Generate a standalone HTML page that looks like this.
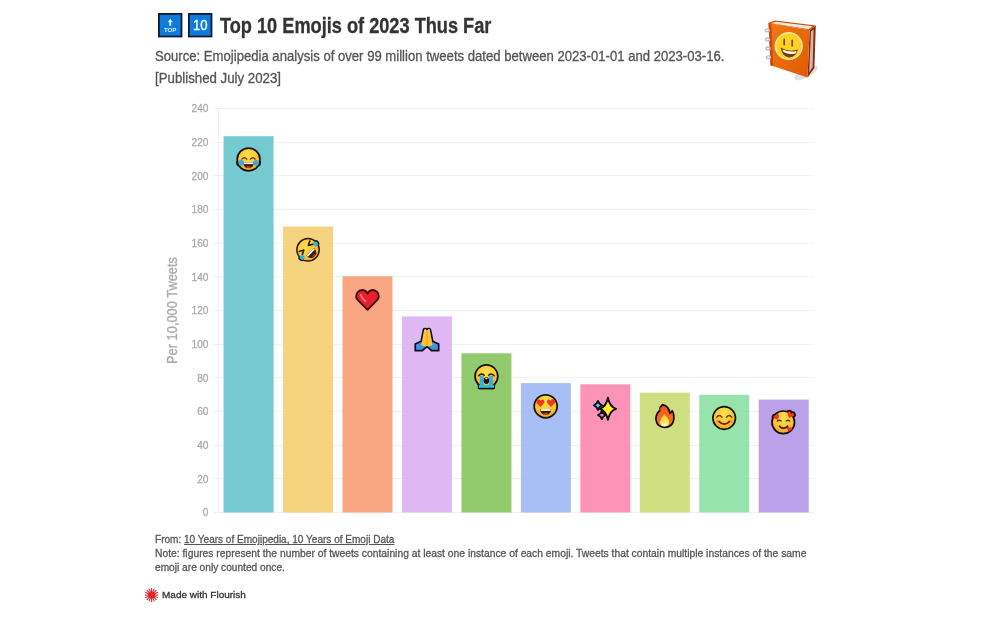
<!DOCTYPE html>
<html lang="en">
<head>
<meta charset="utf-8">
<title>Top 10 Emojis of 2023 Thus Far</title>
<style>
html,body{margin:0;padding:0;background:#fff;}
body{width:1005px;height:620px;position:relative;overflow:hidden;font-family:"Liberation Sans",sans-serif;}
.t{-webkit-text-stroke:0.3px currentColor;position:absolute;white-space:nowrap;transform-origin:0 0;line-height:1;margin:0;}
#title{left:219.9px;top:15px;font-size:21.2px;font-weight:bold;color:#333;transform:scaleX(0.858);}
#sub1{left:155px;top:48.6px;font-size:14px;color:#555;transform:scaleX(0.9368);}
#sub2{left:155px;top:70.8px;font-size:14px;color:#555;transform:scaleX(0.9466);}
#f1{left:155.2px;top:534.1px;font-size:11.4px;color:#555;transform:scaleX(0.8814);}
#f2{left:155.2px;top:547.8px;font-size:11.4px;color:#555;transform:scaleX(0.9051);}
#f3{left:155.2px;top:561.8px;font-size:11.4px;color:#555;transform:scaleX(0.8919);}
#f1 a{color:#555;text-decoration:underline;}
#mwf{left:161.8px;top:590.1px;font-size:9.9px;color:#333;transform:scaleX(1.012);}
svg{position:absolute;left:0;top:0;}
.grid line{stroke:#f1f1f1;stroke-width:1;shape-rendering:crispEdges;}
.grid text{font-family:"Liberation Sans",sans-serif;font-size:11.800px;fill:#aaa;stroke:#aaa;stroke-width:0.3px;}
</style>
</head>
<body>
<svg width="1005" height="620" viewBox="0 0 1005 620">
<defs>
<radialGradient id="gy" cx="0.5" cy="0.3" r="0.75">
<stop offset="0" stop-color="#FFE14D"/><stop offset="0.6" stop-color="#FCC32F"/><stop offset="1" stop-color="#F39A2B"/>
</radialGradient>
<linearGradient id="gfire" x1="0" y1="0" x2="0" y2="1">
<stop offset="0" stop-color="#F4511E"/><stop offset="1" stop-color="#F57C1F"/>
</linearGradient>
<linearGradient id="gfire2" x1="0" y1="0" x2="0" y2="1">
<stop offset="0" stop-color="#FFC928"/><stop offset="0.7" stop-color="#FFE866"/><stop offset="1" stop-color="#FFFFFF"/>
</linearGradient>
<linearGradient id="gcover" x1="0" y1="0" x2="1" y2="1">
<stop offset="0" stop-color="#F07A10"/><stop offset="1" stop-color="#E05A05"/>
</linearGradient>

<!-- 1: face with tears of joy -->
<g id="e-joy">
<ellipse cx="-8.4" cy="3.4" rx="4.1" ry="3.7" fill="#15130c"/>
<ellipse cx="8.4" cy="3.4" rx="4.1" ry="3.7" fill="#15130c"/>
<circle r="11.400" fill="url(#gy)" stroke="#15130c" stroke-width="1.7"/>
<path d="M-6.6,-0.4 Q-4.2,-3.2 -1.8,-0.4 M1.8,-0.4 Q4.2,-3.2 6.6,-0.4" fill="none" stroke="#6b3f0c" stroke-width="1.4" stroke-linecap="round"/>
<path d="M-5.4,2.6 H5.4 Q5,8.8 0,8.8 Q-5,8.800 -5.4,2.6Z" fill="#3a1a08"/>
<path d="M-4.8,2.8 H4.8 V4.6 H-4.8Z" fill="#fff"/>
<path d="M-2.6,7.8 Q0,5.8 2.6,7.800 Q0,9.200 -2.6,7.8Z" fill="#d2452d"/>
<ellipse cx="-7.5" cy="3.4" rx="2.700" ry="2.8" fill="#39a7e0"/>
<ellipse cx="7.5" cy="3.4" rx="2.700" ry="2.8" fill="#39a7e0"/>
</g>

<!-- 2: rolling on the floor laughing -->
<g id="e-rofl">
<g transform="rotate(-45)">
<ellipse cx="-10.100" cy="1.2" rx="3.3" ry="3.2" fill="#2a1a06"/>
<ellipse cx="10.100" cy="1.2" rx="3.3" ry="3.2" fill="#2a1a06"/>
<circle r="11.2" fill="url(#gy)" stroke="#2a1a06" stroke-width="1.5"/>
<path d="M-7.4,-5 L-3.2,-2.8 L-7.4,-0.6 M7.4,-5 L3.2,-2.8 L7.4,-0.6" fill="none" stroke="#2e1604" stroke-width="1.6" stroke-linecap="round" stroke-linejoin="round"/>
<path d="M-5.600,2.800 H5.600 Q5.300,9.300 0,9.300 Q-5.300,9.300 -5.600,2.800Z" fill="#3a1a08"/>
<path d="M-5,2.900 H5 V4.700 H-5Z" fill="#fff"/>
<path d="M-2.4,8.2 Q0,6.4 2.4,8.200 Q0,9.400 -2.4,8.2Z" fill="#c7412a"/>
<ellipse cx="-9.500" cy="1.2" rx="2.400" ry="2.400" fill="#2fb4dc"/>
<ellipse cx="9.500" cy="1.2" rx="2.400" ry="2.400" fill="#2fb4dc"/>
</g>
</g>

<!-- 3: red heart -->
<g id="e-heart">
<path d="M0,10.2 L-9.6,0.6 Q-12.6,-3.2 -10,-7.2 Q-7.2,-10.4 -3.2,-9.2 Q-1.2,-8.4 0,-6.2 Q1.2,-8.4 3.2,-9.2 Q7.2,-10.4 10,-7.2 Q12.6,-3.2 9.6,0.6 Z" fill="#ea1f2d" stroke="#3e0606" stroke-width="1.9" stroke-linejoin="round"/>
<path d="M-6.800,-4.6 Q-5.800,-1.4 -2.200,1.600" fill="none" stroke="#f9767b" stroke-width="2.100" stroke-linecap="round"/>
</g>

<!-- 4: folded hands -->
<g id="e-pray">
<path d="M-2,-11 Q-3.400,-11.2 -3.600,-9.6 L-5.8,1.6 L-11.700,4.4 V11 H-4.6 L0,6.6 L4.6,11 H11.700 V4.4 L5.8,1.6 L3.600,-9.6 Q3.400,-11.2 2,-11 Q0.700,-11.2 0,-10 Q-0.700,-11.2 -2,-11Z" fill="#3a96dd" stroke="#140c20" stroke-width="1.7" stroke-linejoin="round"/>
<path d="M-2,-10.2 Q-2.800,-10.2 -2.900,-9.2 L-5,2.2 L-5.8,5.2 L-1.2,7 L0,5.8 L1.2,7 L5.8,5.2 L5,2.2 L2.900,-9.2 Q2.800,-10.2 2,-10.2 Q0.700,-10.2 0,-9 Q-0.700,-10.2 -2,-10.2Z" fill="#fdc435"/>
<path d="M0,-9 V5.6" stroke="#ee9f1e" stroke-width="1.1"/>
<path d="M-1.800,-10.6 V-7.500 M1.800,-10.6 V-7.500" stroke="#f7d9a0" stroke-width="0.8"/>
</g>

<!-- 5: loudly crying face -->
<g id="e-sob">
<path d="M-8.2,6 H8.2 V11.6 Q8.2,12.4 7.4,12.4 H-7.4 Q-8.2,12.4 -8.2,11.6Z" fill="#111" stroke="#111" stroke-width="0.8"/>
<circle r="11.400" cy="-0.3" fill="url(#gy)" stroke="#15130c" stroke-width="1.7"/>
<path d="M-6.700,-0.6 H-2.500 V11 H-6.700Z M2.500,-0.6 H6.700 V11 H2.500Z M-7.4,8.400 H7.4 V11 H-7.4Z" fill="#3aaee2"/>
<path d="M-7.4,8.6 H7.4 V11 H-7.4Z" fill="#2fc0d8"/>
<path d="M-7.8,-0.8 Q-5,-3.8 -2.2,-1.4 M2.2,-1.4 Q5,-3.8 7.8,-0.8" fill="none" stroke="#2a2208" stroke-width="1.5" stroke-linecap="round"/>
<ellipse cx="0" cy="4" rx="2.700" ry="3.400" fill="#1b0d06"/>
<ellipse cx="0" cy="2" rx="1.3" ry="0.8" fill="#e6e0d8"/>
</g>

<!-- 6: heart eyes -->
<g id="e-hearteyes" transform="translate(-0.2 -0.1)">
<circle r="11.500" fill="url(#gy)" stroke="#15130c" stroke-width="1.7"/>
<path d="M-5.2,0.6 L-9,-3 Q-10.2,-5.2 -8.4,-6.6 Q-6.4,-7.6 -4.8,-5.6 Q-3.6,-7.6 -1.8,-6.4 Q-0.4,-4.8 -2,-2.8 Z" fill="#f0391a"/>
<path d="M5.2,0.6 L9,-3 Q10.2,-5.2 8.4,-6.6 Q6.4,-7.6 4.8,-5.6 Q3.600,-7.6 1.8,-6.4 Q0.4,-4.8 2,-2.8 Z" fill="#f0391a"/>
<path d="M-5.6,2.6 H5.6 Q5.2,8.4 0,8.4 Q-5.2,8.4 -5.6,2.6Z" fill="#3a1a08"/>
<path d="M-5,2.8 H5 V4.6 H-5Z" fill="#fff"/>
<path d="M-2.6,7.4 Q0,5.6 2.6,7.4 Q0,8.8 -2.600,7.4Z" fill="#d2452d"/>
</g>

<!-- 7: sparkles -->
<g id="e-sparkles">
<path d="M-7.4,-6.7 Q-6.300000000000001,-3.3000000000000003 -3.3000000000000007,-2.2 Q-6.300000000000001,-1.1 -7.4,2.3 Q-8.5,-1.1 -11.5,-2.2 Q-8.5,-3.3000000000000003 -7.4,-6.7Z" fill="#2fd0f5" stroke="#120a14" stroke-width="1.9" stroke-linejoin="round"/>
<path d="M-3.5,3.5 Q-2.5,6.5 0.2999999999999998,7.5 Q-2.5,8.5 -3.5,11.5 Q-4.5,8.5 -7.3,7.5 Q-4.5,6.5 -3.5,3.5Z" fill="#d98ad6" stroke="#120a14" stroke-width="1.9" stroke-linejoin="round"/>
<path d="M2.6,-9.8 Q4.4,-0.6000000000000001 10.799999999999999,1.2 Q4.4,3.0 2.6,12.2 Q0.8,3.0 -5.6,1.2 Q0.8,-0.6000000000000001 2.6,-9.8Z" fill="#fff21a" stroke="#120a14" stroke-width="1.9" stroke-linejoin="round"/>
</g>

<!-- 8: fire -->
<g id="e-fire">
<path d="M-2.200,-11.200 Q4.400,-9.600 5,-2.600 Q6.600,-3.200 7.400,-5.200 Q9.800,-1 8.800,4.600 Q7.200,11.400 0,11.400 Q-7.600,11.400 -8.800,4 Q-9.400,-1.600 -5,-5.400 Q-5.400,-8.600 -2.200,-11.200Z" fill="url(#gfire)" stroke="#160c04" stroke-width="1.7" stroke-linejoin="round"/>
<path d="M-0.400,-1.600 Q3.400,2.200 4.400,5.400 Q4.600,10.400 0,10.600 Q-4.600,10.400 -4.800,6 Q-4.200,2 -0.400,-1.600Z" fill="url(#gfire2)"/>
<path d="M-5.600,-5.800 Q-5.200,-8.200 -3.600,-9.200 Q-4.400,-7 -4.200,-5.400Z" fill="#b9524a"/>
</g>

<!-- 9: smiling face with smiling eyes -->
<g id="e-blush">
<circle r="11.300" cx="-0.1" cy="-0.1" fill="url(#gy)" stroke="#15130c" stroke-width="1.7"/>
<ellipse cx="-6.200" cy="3" rx="2.600" ry="1.800" fill="#f58a4a" opacity="0.75"/>
<ellipse cx="6.200" cy="3" rx="2.600" ry="1.800" fill="#f58a4a" opacity="0.75"/>
<path d="M-7.400,-1 Q-5,-4.200 -2.400,-1 M2.400,-1 Q5,-4.200 7.400,-1" fill="none" stroke="#5a3408" stroke-width="1.5" stroke-linecap="round"/>
<path d="M-5.200,3.600 Q0,8.600 5.200,3.600" fill="none" stroke="#5a2408" stroke-width="1.6" stroke-linecap="round"/>
</g>

<!-- 10: smiling face with hearts -->
<g id="e-hearts3">
<path transform="translate(-6.95 -5.60) rotate(-28)" d="M0,2.66 L-2.80,-0.14 Q-3.64,-1.82 -2.10,-2.66 Q-0.78,-3.08 0,-1.54 Q0.78,-3.08 2.10,-2.66 Q3.64,-1.82 2.80,-0.14Z" fill="#1a0e10" stroke="#1a0e10" stroke-width="3.2" stroke-linejoin="round"/>
<path transform="translate(6.65 -7.70) rotate(24)" d="M0,3.04 L-3.20,-0.16 Q-4.16,-2.08 -2.40,-3.04 Q-0.90,-3.52 0,-1.76 Q0.90,-3.52 2.40,-3.04 Q4.16,-2.08 3.20,-0.16Z" fill="#1a0e10" stroke="#1a0e10" stroke-width="3.2" stroke-linejoin="round"/>
<circle r="11.3" cx="-0.45" cy="-0.6" fill="url(#gy)" stroke="#1a0e10" stroke-width="1.7"/>
<path transform="translate(-6.95 -5.60) rotate(-28)" d="M0,2.66 L-2.80,-0.14 Q-3.64,-1.82 -2.10,-2.66 Q-0.78,-3.08 0,-1.54 Q0.78,-3.08 2.10,-2.66 Q3.64,-1.82 2.80,-0.14Z" fill="#ee3a1c"/>
<path transform="translate(6.65 -7.70) rotate(24)" d="M0,3.04 L-3.20,-0.16 Q-4.16,-2.08 -2.40,-3.04 Q-0.90,-3.52 0,-1.76 Q0.90,-3.52 2.40,-3.04 Q4.16,-2.08 3.20,-0.16Z" fill="#ee3a1c"/>
<path transform="translate(5.45 6.30) rotate(18)" d="M0,2.47 L-2.60,-0.13 Q-3.38,-1.69 -1.95,-2.47 Q-0.73,-2.86 0,-1.43 Q0.73,-2.86 1.95,-2.47 Q3.38,-1.69 2.60,-0.13Z" fill="#ee3a1c"/>
<path d="M-6.35,-1.90 Q-4.45,-3.60 -2.55,-1.90 M2.45,-1.90 Q4.25,-3.60 5.95,-1.90" fill="none" stroke="#5a3408" stroke-width="1.4" stroke-linecap="round"/>
<path d="M-4.05,3.40 Q-0.25,7.20 3.55,3.40" fill="none" stroke="#4a1c08" stroke-width="1.8" stroke-linecap="round"/>
</g>
</defs>

<!-- gridlines and y axis -->
<g class="grid">
<line x1="212.5" x2="813.5" y1="512.50" y2="512.50"/>
<text x="208.5" y="516.45" text-anchor="end" transform="translate(208.5 0) scale(0.865 1) translate(-208.5 0)">0</text>
<line x1="212.5" x2="813.5" y1="478.83" y2="478.83"/>
<text x="208.5" y="482.78" text-anchor="end" transform="translate(208.5 0) scale(0.865 1) translate(-208.5 0)">20</text>
<line x1="212.5" x2="813.5" y1="445.17" y2="445.17"/>
<text x="208.5" y="449.12" text-anchor="end" transform="translate(208.5 0) scale(0.865 1) translate(-208.5 0)">40</text>
<line x1="212.5" x2="813.5" y1="411.50" y2="411.50"/>
<text x="208.5" y="415.45" text-anchor="end" transform="translate(208.5 0) scale(0.865 1) translate(-208.5 0)">60</text>
<line x1="212.5" x2="813.5" y1="377.83" y2="377.83"/>
<text x="208.5" y="381.78" text-anchor="end" transform="translate(208.5 0) scale(0.865 1) translate(-208.5 0)">80</text>
<line x1="212.5" x2="813.5" y1="344.17" y2="344.17"/>
<text x="208.5" y="348.12" text-anchor="end" transform="translate(208.5 0) scale(0.865 1) translate(-208.5 0)">100</text>
<line x1="212.5" x2="813.5" y1="310.50" y2="310.50"/>
<text x="208.5" y="314.45" text-anchor="end" transform="translate(208.5 0) scale(0.865 1) translate(-208.5 0)">120</text>
<line x1="212.5" x2="813.5" y1="276.83" y2="276.83"/>
<text x="208.5" y="280.78" text-anchor="end" transform="translate(208.5 0) scale(0.865 1) translate(-208.5 0)">140</text>
<line x1="212.5" x2="813.5" y1="243.17" y2="243.17"/>
<text x="208.5" y="247.12" text-anchor="end" transform="translate(208.5 0) scale(0.865 1) translate(-208.5 0)">160</text>
<line x1="212.5" x2="813.5" y1="209.50" y2="209.50"/>
<text x="208.5" y="213.45" text-anchor="end" transform="translate(208.5 0) scale(0.865 1) translate(-208.5 0)">180</text>
<line x1="212.5" x2="813.5" y1="175.83" y2="175.83"/>
<text x="208.5" y="179.78" text-anchor="end" transform="translate(208.5 0) scale(0.865 1) translate(-208.5 0)">200</text>
<line x1="212.5" x2="813.5" y1="142.17" y2="142.17"/>
<text x="208.5" y="146.12" text-anchor="end" transform="translate(208.5 0) scale(0.865 1) translate(-208.5 0)">220</text>
<line x1="212.5" x2="813.5" y1="108.50" y2="108.50"/>
<text x="208.5" y="112.45" text-anchor="end" transform="translate(208.5 0) scale(0.865 1) translate(-208.5 0)">240</text>
<line x1="218.5" x2="218.5" y1="108.5" y2="512.5" style="stroke:#f4efef"/>
</g>
<text transform="translate(177.3 310.5) rotate(-90) scale(0.9186 1)" text-anchor="middle" font-family="Liberation Sans, sans-serif" font-size="14" fill="#aaa" stroke="#aaa" stroke-width="0.3">Per 10,000 Tweets</text>

<!-- bars -->
<g opacity="0.9">
<rect x="223.58" y="136.20" width="50.0" height="376.30" fill="#66C5CC"/>
<rect x="283.04" y="226.50" width="50.0" height="286.00" fill="#F6CF71"/>
<rect x="342.50" y="276.30" width="50.0" height="236.20" fill="#F89C74"/>
<rect x="401.96" y="316.40" width="50.0" height="196.10" fill="#DCB0F2"/>
<rect x="461.42" y="353.30" width="50.0" height="159.20" fill="#87C55F"/>
<rect x="520.88" y="383.10" width="50.0" height="129.40" fill="#9EB9F3"/>
<rect x="580.34" y="384.30" width="50.0" height="128.20" fill="#FE88B1"/>
<rect x="639.80" y="392.60" width="50.0" height="119.90" fill="#C9DB74"/>
<rect x="699.26" y="394.80" width="50.0" height="117.70" fill="#8BE0A4"/>
<rect x="758.72" y="399.60" width="50.0" height="112.90" fill="#B497E7"/>
</g>
<g>
<use href="#e-joy" x="248.58" y="159.50"/>
<use href="#e-rofl" x="308.04" y="249.80"/>
<use href="#e-heart" x="367.50" y="299.60"/>
<use href="#e-pray" x="426.96" y="339.70"/>
<use href="#e-sob" x="486.42" y="376.60"/>
<use href="#e-hearteyes" x="545.88" y="406.40"/>
<use href="#e-sparkles" x="605.34" y="407.60"/>
<use href="#e-fire" x="664.80" y="415.90"/>
<use href="#e-blush" x="724.26" y="418.10"/>
<use href="#e-hearts3" x="783.72" y="422.90"/>
</g>

<!-- title emoji icons -->
<g font-family="Liberation Sans, sans-serif" font-weight="bold" fill="#fff" text-anchor="middle">
<rect x="158.900" y="13.900" width="22.600" height="22.600" fill="#0f7bdc" stroke="#141c2e" stroke-width="1.8"/>
<path d="M170.2,18.8 L172.700,22.200 H171.100 V25.800 H169.300 V22.200 H167.700 Z" fill="#dff5ff"/>
<text x="170.2" y="31.700" font-size="5.300" fill="#cdeeff" textLength="12.600" lengthAdjust="spacingAndGlyphs">TOP</text>
<rect x="188.900" y="13.900" width="22.600" height="22.600" fill="#0f7bdc" stroke="#141c2e" stroke-width="1.8"/>
<text x="200.200" y="30.300" font-size="15" font-weight="normal" fill="#e4f7ff" stroke="#e4f7ff" stroke-width="0.500" textLength="14.600" lengthAdjust="spacingAndGlyphs">10</text>
</g>

<!-- Emojipedia notebook logo -->
<g>
<ellipse cx="806" cy="73" rx="13" ry="4.500" fill="#000" opacity="0.12" transform="rotate(-28 806 73)"/>
<path d="M809.600,30.300 L815.800,25.500 L814.400,68 L807.500,77.600Z" fill="#8c2a10"/>
<path d="M811,31.600 L813.600,29.400 L812.600,67 L809.200,72.500Z" fill="#cdb8b0"/>
<path d="M768.500,22.800 L775.300,20.600 L815.800,25.500 L809.600,30.300Z" fill="#c9500c"/>
<path d="M771,23.300 L776,21.800 L812.600,26.300 L808.800,29.200Z" fill="#efe8e0"/>
<path d="M768.500,22.800 L809.600,30.300 L807.500,77.600 L770.500,65.300Z" fill="url(#gcover)"/>
<path d="M768.500,22.800 L771.300,23.300 L773.200,66.200 L770.500,65.300Z" fill="#c9480a"/>
<circle cx="788.800" cy="46.100" r="13.300" fill="#ffd21e" stroke="#f7e4a0" stroke-width="1.600"/>
<path d="M784.200,39.400 V44.600 M792.200,40.400 V45.800" stroke="#7a4a10" stroke-width="1.700" stroke-linecap="round"/>
<path d="M780.500,47.600 Q789,52.600 798,49.600 Q796,57.600 789,57.400 Q782.500,57 780.500,47.600Z" fill="#7a3a10"/>
<path d="M782.500,49.400 Q789,52.600 796.600,51 L796,53.200 Q789,55.400 783.500,52Z" fill="#fff"/>
<g fill="none" stroke="#c9b6d6" stroke-width="1.300">
<ellipse cx="767.300" cy="30.200" rx="2.100" ry="1.400"/>
<ellipse cx="767.600" cy="39.400" rx="2.100" ry="1.400"/>
<ellipse cx="768" cy="48.400" rx="2.100" ry="1.400"/>
<ellipse cx="768.400" cy="57.200" rx="2.100" ry="1.400"/>
</g>
</g>

<!-- Made with Flourish icon -->
<g fill="#e0262f">
<circle cx="151.600" cy="595" r="3.600"/>
<g stroke="#e0262f" stroke-width="1.100" stroke-linecap="round">
<path d="M151.600,588.600 V601.400 M145.200,595 H158 M147.070,590.470 L156.130,599.530 M147.070,599.530 L156.130,590.470"/>
<path d="M149.150,589.090 L154.050,600.910 M145.690,592.550 L157.510,597.450 M145.690,597.450 L157.510,592.550 M149.150,600.910 L154.050,589.090"/>
</g>
</g>
</svg>

<h1 class="t" id="title">Top 10 Emojis of 2023 Thus Far</h1>
<p class="t" id="sub1">Source: Emojipedia analysis of over 99 million tweets dated between 2023-01-01 and 2023-03-16.</p>
<p class="t" id="sub2">[Published July 2023]</p>
<p class="t" id="f1">From: <a>10 Years of Emojipedia, 10 Years of Emoji Data</a></p>
<p class="t" id="f2">Note: figures represent the number of tweets containing at least one instance of each emoji. Tweets that contain multiple instances of the same</p>
<p class="t" id="f3">emoji are only counted once.</p>
<p class="t" id="mwf">Made with Flourish</p>
</body>
</html>
